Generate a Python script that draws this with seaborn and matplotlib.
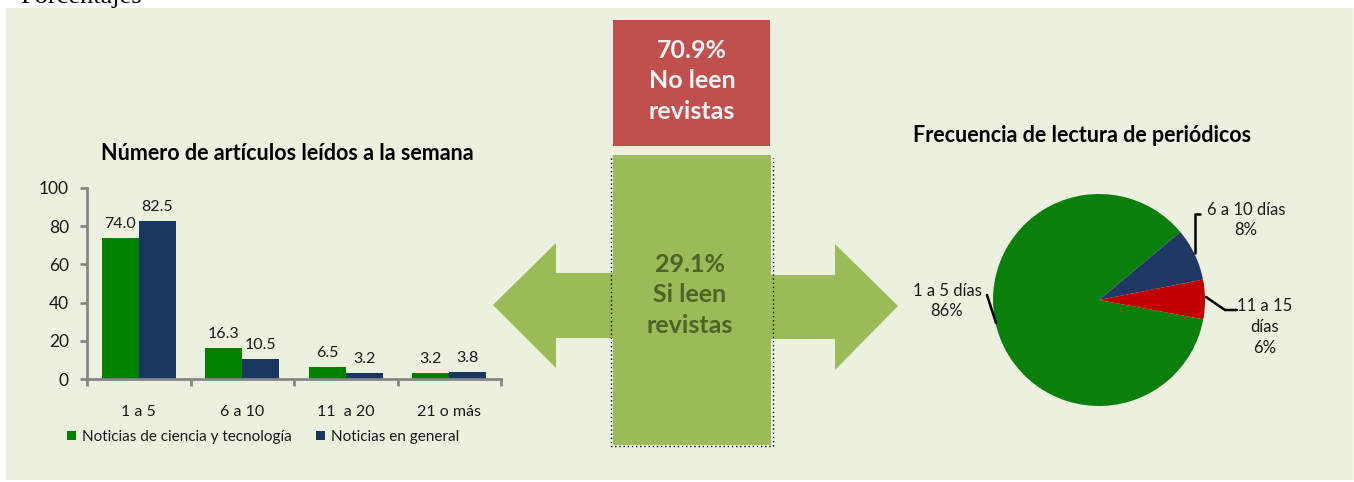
import matplotlib
matplotlib.use("Agg")
import matplotlib.pyplot as plt
import seaborn as sns
import pandas as pd
from matplotlib.patches import Rectangle, Polygon

# ---------------- data ----------------
categories = ["1 a 5", "6 a 10", "11  a 20", "21 o más"]
series_names = ["Noticias de ciencia y tecnología", "Noticias en general"]
ciencia = [74.0, 16.3, 6.5, 3.2]
general = [82.5, 10.5, 3.2, 3.8]
yticks = [0, 20, 40, 60, 80, 100]

pie_labels = ["1 a 5 días", "6 a 10 días", "11 a 15\ndías"]
pie_values = [86, 8, 6]

no_leen_pct = 70.9
si_leen_pct = 29.1

# ---------------- style ----------------
W, H = 1354, 482
sns.set_theme(style="white")
plt.rcParams['font.family'] = ['Lato', 'DejaVu Sans']

BG = '#EBF1DE'
GREEN = '#008000'
NAVY = '#17375E'
PIE_GREEN = '#0B7F0B'
PIE_NAVY = '#1F3864'
PIE_RED = '#C00000'
AXIS_GRAY = '#868686'
TXT = '#1a1a1a'

fig = plt.figure(figsize=(W / 100, H / 100), dpi=100)
fig.patch.set_facecolor('white')

def fr(x0, y0, x1, y1):
    """pixel box (top-left origin) -> figure fraction rect"""
    return [x0 / W, 1 - y1 / H, (x1 - x0) / W, (y1 - y0) / H]

# background / central graphic layer in pixel coordinates
bg = fig.add_axes([0, 0, 1, 1], zorder=0)
bg.set_xlim(0, W)
bg.set_ylim(H, 0)
bg.axis('off')
bg.add_patch(Rectangle((6, 8), 1347, 472, facecolor=BG, edgecolor='none'))

fig.text(20 / W, 1 - 3 / H, "Porcentajes", family='Liberation Serif',
         fontsize=19, color='black', ha='left', va='baseline')

# red box
bg.add_patch(Rectangle((613, 20), 157, 126, facecolor='#C0504D', edgecolor='none'))
bg.text(692, 81, f"{no_leen_pct:.1f}%\nNo leen\nrevistas", ha='center', va='center',
        color='#F2F2F2', fontsize=18, fontweight='bold', linespacing=1.4)

# green cross / arrows
OLIVE = '#9BBB59'
bg.add_patch(Rectangle((613, 155), 158, 290, facecolor=OLIVE, edgecolor='none'))
bg.add_patch(Polygon([(493, 305), (556, 243), (556, 273), (614, 273), (614, 338),
                      (556, 338), (556, 368)], closed=True, facecolor=OLIVE, edgecolor='none'))
bg.add_patch(Polygon([(898, 306), (835, 244), (835, 275), (770, 275), (770, 339),
                      (835, 339), (835, 370)], closed=True, facecolor=OLIVE, edgecolor='none'))
bg.plot([611, 611, 773, 773], [158, 446, 446, 158], color='black', lw=1,
        linestyle=(0, (1, 2)))
bg.text(690, 295, f"{si_leen_pct:.1f}%\nSi leen\nrevistas", ha='center', va='center',
        color='#4F6228', fontsize=18, fontweight='bold', linespacing=1.4)

# ---------------- bar chart ----------------
ax = fig.add_axes(fr(87, 188, 501, 379), zorder=2)
ax.patch.set_alpha(0)
df = pd.DataFrame({
    "cat": categories * 2,
    "serie": [series_names[0]] * len(categories) + [series_names[1]] * len(categories),
    "val": ciencia + general,
})
sns.barplot(data=df, x="cat", y="val", hue="serie", palette=[GREEN, NAVY],
            width=0.715, gap=0, errorbar=None, saturation=1, legend=False, ax=ax,
            linewidth=0)
for cont in ax.containers:
    ax.bar_label(cont, fmt='%.1f', padding=5, fontsize=11.5, color=TXT)
ax.set_ylim(0, 100)
ax.set_xlim(-0.5, len(categories) - 0.5)
ax.set_yticks(yticks)
ax.set_xlabel("")
ax.set_ylabel("")
for s in ['top', 'right']:
    ax.spines[s].set_visible(False)
for s in ['left', 'bottom']:
    ax.spines[s].set_color(AXIS_GRAY)
    ax.spines[s].set_linewidth(2)
ax.tick_params(axis='y', direction='out', length=5, width=2, color=AXIS_GRAY,
               labelsize=12.5, labelcolor=TXT, pad=8, left=True)
ax.set_xticks([i - 0.5 for i in range(len(categories) + 1)], minor=True)
ax.tick_params(axis='x', which='minor', direction='out', length=5, width=2,
               color=AXIS_GRAY, bottom=True)
ax.tick_params(axis='x', which='major', length=0, labelsize=11.5, labelcolor=TXT, pad=19)
ax.set_title("Número de artículos leídos a la semana", fontsize=15.5,
             fontweight='bold', color='black', pad=20, x=0.485)

handles = [Rectangle((0, 0), 1, 1, facecolor=c, edgecolor='none') for c in (GREEN, NAVY)]
fig.legend(handles, series_names, loc='center', bbox_to_anchor=(263 / W, 1 - 437 / H),
           ncol=2, frameon=False, fontsize=11, handlelength=0.6, handleheight=0.6,
           handletextpad=0.4, columnspacing=1.6, labelcolor=TXT)

# ---------------- pie chart ----------------
cx, cy, r = 1099, 300, 106
pax = fig.add_axes(fr(cx - r, cy - r, cx + r, cy + r), zorder=2)
pax.pie(pie_values, colors=[PIE_GREEN, PIE_NAVY, PIE_RED], startangle=-10.5,
        counterclock=False, radius=1, wedgeprops=dict(linewidth=0))
pax.set_xlim(-1, 1)
pax.set_ylim(-1, 1)
pax.set_aspect('auto')

def d(px, py):
    return ((px - cx) / r, (cy - py) / r)

label_pos = [d(947, 301), d(1246, 220), d(1265, 327)]
leaders = [
    [d(987, 295), d(996, 323)],
    [d(1195, 253), d(1195, 214), d(1200, 214)],
    [d(1206, 297), d(1225, 310), d(1237, 310)],
]
for lab, val, pos, ld in zip(pie_labels, pie_values, label_pos, leaders):
    pax.text(pos[0], pos[1], f"{lab}\n{val}%", ha='center', va='center',
             fontsize=12, color=TXT, linespacing=1.35, clip_on=False)
    xs, ys = zip(*ld)
    pax.plot(xs, ys, color='black', lw=1.8, clip_on=False)

fig.text(1082 / W, 1 - 135 / H, "Frecuencia de lectura de periódicos", ha='center',
         va='center', fontsize=15.5, fontweight='bold', color='black')

fig.savefig("out.png", dpi=100, facecolor=fig.get_facecolor())
